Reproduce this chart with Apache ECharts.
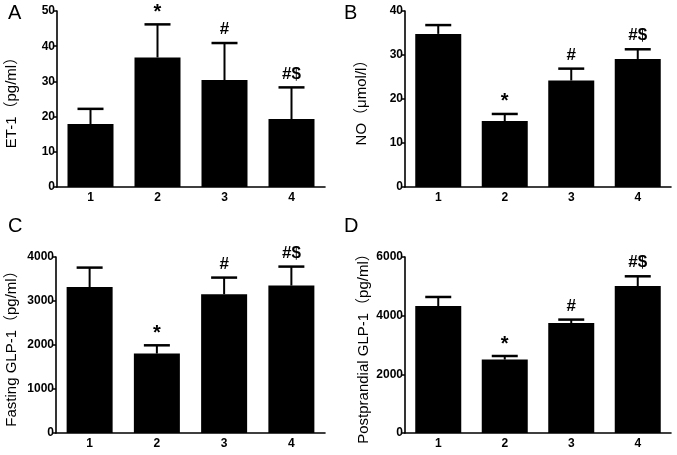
<!DOCTYPE html>
<html><head><meta charset="utf-8">
<script src="https://cdn.jsdelivr.net/npm/echarts@6/dist/echarts.min.js"></script>
<style>html,body{margin:0;padding:0;background:#fff}#c{width:677px;height:455px}</style>
</head><body><div id="c"></div>
<script>
const categories = ['1','2','3','4'];
// Panel A: ET-1 (pg/ml)
const etMean = [17.9, 36.8, 30.4, 19.3];
const etErrTop = [22.2, 46.2, 40.9, 28.3];
const etMarks = ['', '*', '#', '#$'];
// Panel B: NO (μmol/l)
const noMean = [34.8, 15.0, 24.2, 29.1];
const noErrTop = [36.8, 16.6, 26.9, 31.3];
const noMarks = ['', '*', '#', '#$'];
// Panel C: Fasting GLP-1 (pg/ml)
const fastMean = [3318, 1805, 3152, 3350];
const fastErrTop = [3759, 1993, 3532, 3782];
const fastMarks = ['', '*', '#', '#$'];
// Panel D: Postprandial GLP-1 (pg/ml)
const postMean = [4330, 2502, 3750, 5012];
const postErrTop = [4637, 2625, 3866, 5342];
const postMarks = ['', '*', '#', '#$'];

const panels = [
  {mean: etMean, err: etErrTop, marks: etMarks, max: 50, interval: 10, title: 'ET-1（pg/ml）', letter: 'A'},
  {mean: noMean, err: noErrTop, marks: noMarks, max: 40, interval: 10, title: 'NO（μmol/l）', letter: 'B'},
  {mean: fastMean, err: fastErrTop, marks: fastMarks, max: 4000, interval: 1000, title: 'Fasting GLP-1（pg/ml）', letter: 'C'},
  {mean: postMean, err: postErrTop, marks: postMarks, max: 6000, interval: 2000, title: 'Postprandial GLP-1（pg/ml）', letter: 'D'}
];
const grids = [
  {left: 57, top: 11, width: 268, height: 176},
  {left: 405, top: 11, width: 266, height: 176},
  {left: 56, top: 257, width: 269, height: 176},
  {left: 405, top: 257, width: 266, height: 176}
];
const titlePos = [{x: 12}, {x: 362}, {x: 12}, {x: 364}];
const letterPos = [{x: 8, y: 3}, {x: 344, y: 3}, {x: 8, y: 216}, {x: 344, y: 216}];

const FF = '"Liberation Sans", Arial, "Noto Sans CJK SC", sans-serif';
const option = {animation: false, backgroundColor: '#fff', grid: [], xAxis: [], yAxis: [], series: [], graphic: []};

panels.forEach((p, i) => {
  const g = grids[i];
  option.grid.push({left: g.left, top: g.top, width: g.width, height: g.height, containLabel: false});
  option.xAxis.push({
    type: 'category', gridIndex: i, data: categories,
    axisLine: {lineStyle: {color: '#000', width: 1.6}},
    axisTick: {alignWithLabel: true, length: 4, lineStyle: {color: '#000', width: 1.5}},
    axisLabel: {color: '#000', fontWeight: 'bold', fontSize: 12, fontFamily: FF, margin: 5},
    splitLine: {show: false}
  });
  option.yAxis.push({
    type: 'value', gridIndex: i, min: 0, max: p.max, interval: p.interval,
    axisLine: {show: true, lineStyle: {color: '#000', width: 1.6}},
    axisTick: {show: true, length: 4, lineStyle: {color: '#000', width: 1.5}},
    axisLabel: {color: '#000', fontWeight: 'bold', fontSize: 12, fontFamily: FF, margin: 2, formatter: v => String(v)},
    splitLine: {show: false}
  });
  option.series.push({
    type: 'bar', xAxisIndex: i, yAxisIndex: i, data: p.mean, barWidth: 46,
    itemStyle: {color: '#000'}, silent: true
  });
  const errData = p.mean.map((m, k) => [k, m, p.err[k]]);
  const marks = p.marks;
  option.series.push({
    type: 'custom', xAxisIndex: i, yAxisIndex: i, data: errData, silent: true, z: 5,
    renderItem: function (params, api) {
      const base = api.coord([api.value(0), api.value(1)]);
      const top = api.coord([api.value(0), api.value(2)]);
      const half = 13;
      const children = [
        {type: 'line', shape: {x1: base[0], y1: base[1], x2: top[0], y2: top[1]}, style: {stroke: '#000', lineWidth: 2}},
        {type: 'line', shape: {x1: top[0] - half, y1: top[1], x2: top[0] + half, y2: top[1]}, style: {stroke: '#000', lineWidth: 2.5}}
      ];
      const t = marks[params.dataIndex];
      if (t) {
        children.push({type: 'text', style: {text: t, x: top[0], y: top[1] - (t === '*' ? 2 : 5), align: 'center', verticalAlign: 'bottom', fill: '#000', font: 'bold ' + (t === '*' ? 20 : 17) + 'px ' + FF}});
      }
      return {type: 'group', children: children};
    }
  });
  option.graphic.push({
    type: 'text', x: titlePos[i].x, y: g.top + g.height / 2, rotation: Math.PI / 2,
    style: {text: p.title, align: 'center', verticalAlign: 'middle', fill: '#000', font: '15px ' + FF}
  });
  option.graphic.push({
    type: 'text', left: letterPos[i].x, top: letterPos[i].y,
    style: {text: p.letter, fill: '#000', font: '20px ' + FF}
  });
});

const chart = echarts.init(document.getElementById('c'), null, {renderer: 'canvas'});
chart.setOption(option);
</script>
</body></html>
